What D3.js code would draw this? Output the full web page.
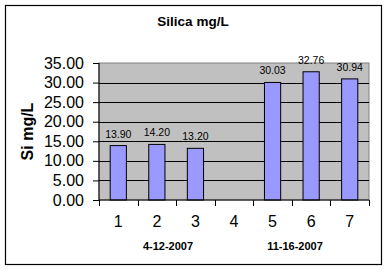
<!DOCTYPE html>
<html>
<head>
<meta charset="utf-8">
<script src="https://cdn.jsdelivr.net/npm/d3@7"></script>
<style>
  body { margin: 0; background: #fff; }
  text { font-family: "Liberation Sans", Arial, sans-serif; }
</style>
</head>
<body>
<div id="chart"></div>
<script>
// chart data
const categories = ["1", "2", "3", "4", "5", "6", "7"];
const silica = [13.90, 14.20, 13.20, null, 30.03, 32.76, 30.94];
const yTicks = [0, 5, 10, 15, 20, 25, 30, 35];
const dateLabels = ["4-12-2007", "11-16-2007"];

const width = 387, height = 272;
const margin = { top: 63, right: 18, bottom: 72, left: 99 };

const svg = d3.select("#chart")
  .append("svg")
  .attr("width", width)
  .attr("height", height);

// outer frame
svg.append("rect")
  .attr("x", 5.5).attr("y", 5.5)
  .attr("width", 376).attr("height", 259)
  .attr("fill", "#fff")
  .attr("stroke", "#000")
  .attr("stroke-width", 1.2);

const xScale = d3.scaleBand()
  .domain(categories)
  .range([margin.left, width - margin.right])
  .paddingInner(0.58)
  .paddingOuter(0.29);

const yScale = d3.scaleLinear()
  .domain([0, 35])
  .range([height - margin.bottom, margin.top]);

const plotW = width - margin.right - margin.left;
const plotH = height - margin.bottom - margin.top;

// plot background
svg.append("rect")
  .attr("x", margin.left).attr("y", margin.top)
  .attr("width", plotW).attr("height", plotH)
  .attr("fill", "#c0c0c0")
  .attr("stroke", "#808080");

// gridlines
svg.append("g")
  .selectAll("line")
  .data(yTicks.filter(d => d > 0 && d < 35))
  .enter()
  .append("line")
  .attr("x1", margin.left).attr("x2", width - margin.right)
  .attr("y1", d => Math.round(yScale(d)) + 0.5)
  .attr("y2", d => Math.round(yScale(d)) + 0.5)
  .attr("stroke", "#000");

// bars
const points = categories.map((c, i) => ({ c, v: silica[i] })).filter(d => d.v != null);

svg.append("g")
  .selectAll("rect")
  .data(points)
  .enter()
  .append("rect")
  .attr("x", d => xScale(d.c))
  .attr("y", d => yScale(d.v))
  .attr("width", xScale.bandwidth())
  .attr("height", d => yScale(0) - yScale(d.v))
  .attr("fill", "#9999ff")
  .attr("stroke", "#000")
  .attr("stroke-width", 1);

// value labels
svg.append("g")
  .selectAll("text")
  .data(points)
  .enter()
  .append("text")
  .attr("x", d => xScale(d.c) + xScale.bandwidth() / 2)
  .attr("y", d => yScale(d.v) - 8)
  .attr("text-anchor", "middle")
  .attr("font-size", "10.5px")
  .attr("fill", "#000")
  .text(d => d.v.toFixed(2));

// y axis
const yAxis = svg.append("g")
  .attr("transform", `translate(${margin.left},0)`)
  .call(d3.axisLeft(yScale).tickValues(yTicks).tickFormat(d3.format(".2f")).tickSize(6).tickPadding(9));
yAxis.selectAll("text").attr("font-size", "16px").attr("fill", "#000");
yAxis.selectAll("line, path").attr("stroke", "#000");
yAxis.select(".domain").attr("d", `M0,${margin.top}V${height - margin.bottom}`);

// x axis, tick marks sit on category boundaries
const bounds = d3.range(categories.length + 1).map(i => margin.left + i * xScale.step());
const xAxis = svg.append("g")
  .attr("transform", `translate(0,${height - margin.bottom})`)
  .call(d3.axisBottom(xScale).tickSize(0).tickPadding(16));
xAxis.selectAll("text").attr("font-size", "16px").attr("fill", "#000");
xAxis.select(".domain").attr("stroke", "#000").attr("d", `M${margin.left},0H${width - margin.right}`);
xAxis.selectAll(".bnd")
  .data(bounds)
  .enter()
  .append("line")
  .attr("class", "bnd")
  .attr("x1", d => Math.round(d) + 0.5).attr("x2", d => Math.round(d) + 0.5)
  .attr("y1", 0).attr("y2", 6)
  .attr("stroke", "#000");

// x axis title (two dates)
const midX = margin.left + plotW / 2;
svg.append("g")
  .selectAll("text")
  .data(dateLabels)
  .enter()
  .append("text")
  .attr("x", (d, i) => midX + (i === 0 ? -66 : 61))
  .attr("y", 250)
  .attr("text-anchor", "middle")
  .attr("font-size", "11px")
  .attr("font-weight", "bold")
  .text(d => d);

// title
svg.append("text")
  .attr("x", 193)
  .attr("y", 26)
  .attr("text-anchor", "middle")
  .attr("font-size", "13.5px")
  .attr("font-weight", "bold")
  .text("Silica mg/L");

// y axis title
svg.append("text")
  .attr("transform", `translate(33,${margin.top + plotH / 2}) rotate(-90)`)
  .attr("text-anchor", "middle")
  .attr("font-size", "16px")
  .attr("font-weight", "bold")
  .text("Si mg/L");
</script>
</body>
</html>
